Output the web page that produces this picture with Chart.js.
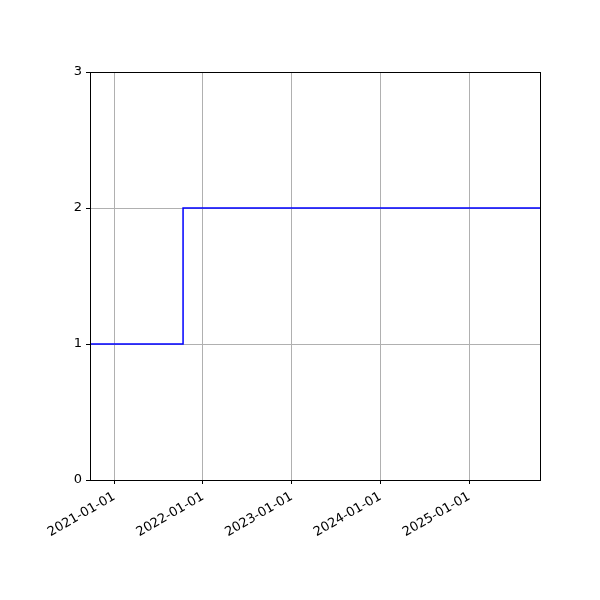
<!DOCTYPE html>
<html>
<head>
<meta charset="utf-8">
<script src="https://cdn.jsdelivr.net/npm/chart.js@4"></script>
<style>
  html, body { margin: 0; padding: 0; background: #fff; }
  #wrap { width: 600px; height: 600px; }
</style>
</head>
<body>
<div id="wrap"><canvas id="myChart" width="600" height="600"></canvas></div>
<script>
// step dates and values
const stepDates = ['2020-09-23', '2021-10-11', '2025-10-19'];
const stepValues = [1, 2, 2];
const yearTicks = ['2021-01-01', '2022-01-01', '2023-01-01', '2024-01-01', '2025-01-01'];
const yTicks = [0, 1, 2, 3];

const toMs = s => Date.parse(s + 'T00:00:00Z');
const fmt = ms => new Date(ms).toISOString().slice(0, 10);

const points = stepDates.map((d, i) => ({ x: toMs(d), y: stepValues[i] }));

// matplotlib-style box round the axes
const frame = {
  id: 'frame',
  afterDraw(chart) {
    const { ctx, chartArea: { top, bottom, left, right } } = chart;
    ctx.save();
    ctx.strokeStyle = '#000';
    ctx.lineWidth = 1;
    ctx.strokeRect(left + 0.5, top + 0.5, right - left, bottom - top);
    ctx.restore();
  }
};

const config = {
  type: 'line',
  data: {
    datasets: [{
      data: points,
      stepped: true,
      borderColor: '#0000ff',
      borderWidth: 1.5,
      pointRadius: 0,
      fill: false
    }]
  },
  options: {
    responsive: false,
    animation: false,
    layout: { padding: { top: 72, right: 60, left: 0, bottom: 0 } },
    plugins: { legend: { display: false }, tooltip: { enabled: false } },
    scales: {
      x: {
        type: 'linear',
        min: toMs(stepDates[0]),
        max: toMs(stepDates[stepDates.length - 1]),
        afterBuildTicks(scale) {
          scale.ticks = yearTicks.map(d => ({ value: toMs(d) }));
        },
        afterFit(scale) { scale.height = 120; },
        border: { display: false },
        grid: { color: '#b0b0b0', tickColor: '#000', tickLength: 4, lineWidth: 1 },
        ticks: {
          autoSkip: false,
          minRotation: 30,
          maxRotation: 30,
          padding: 5,
          color: '#000',
          font: { family: 'DejaVu Sans', size: 13 },
          callback: v => fmt(v)
        }
      },
      y: {
        min: 0,
        max: 3,
        afterBuildTicks(scale) {
          scale.ticks = yTicks.map(v => ({ value: v }));
        },
        afterFit(scale) { scale.width = 90; },
        border: { display: false },
        grid: { color: '#b0b0b0', tickColor: '#000', tickLength: 4, lineWidth: 1 },
        ticks: {
          padding: 4,
          color: '#000',
          font: { family: 'DejaVu Sans', size: 13 }
        }
      }
    }
  },
  plugins: [frame]
};

const myChart = new Chart(document.getElementById('myChart'), config);
</script>
</body>
</html>
